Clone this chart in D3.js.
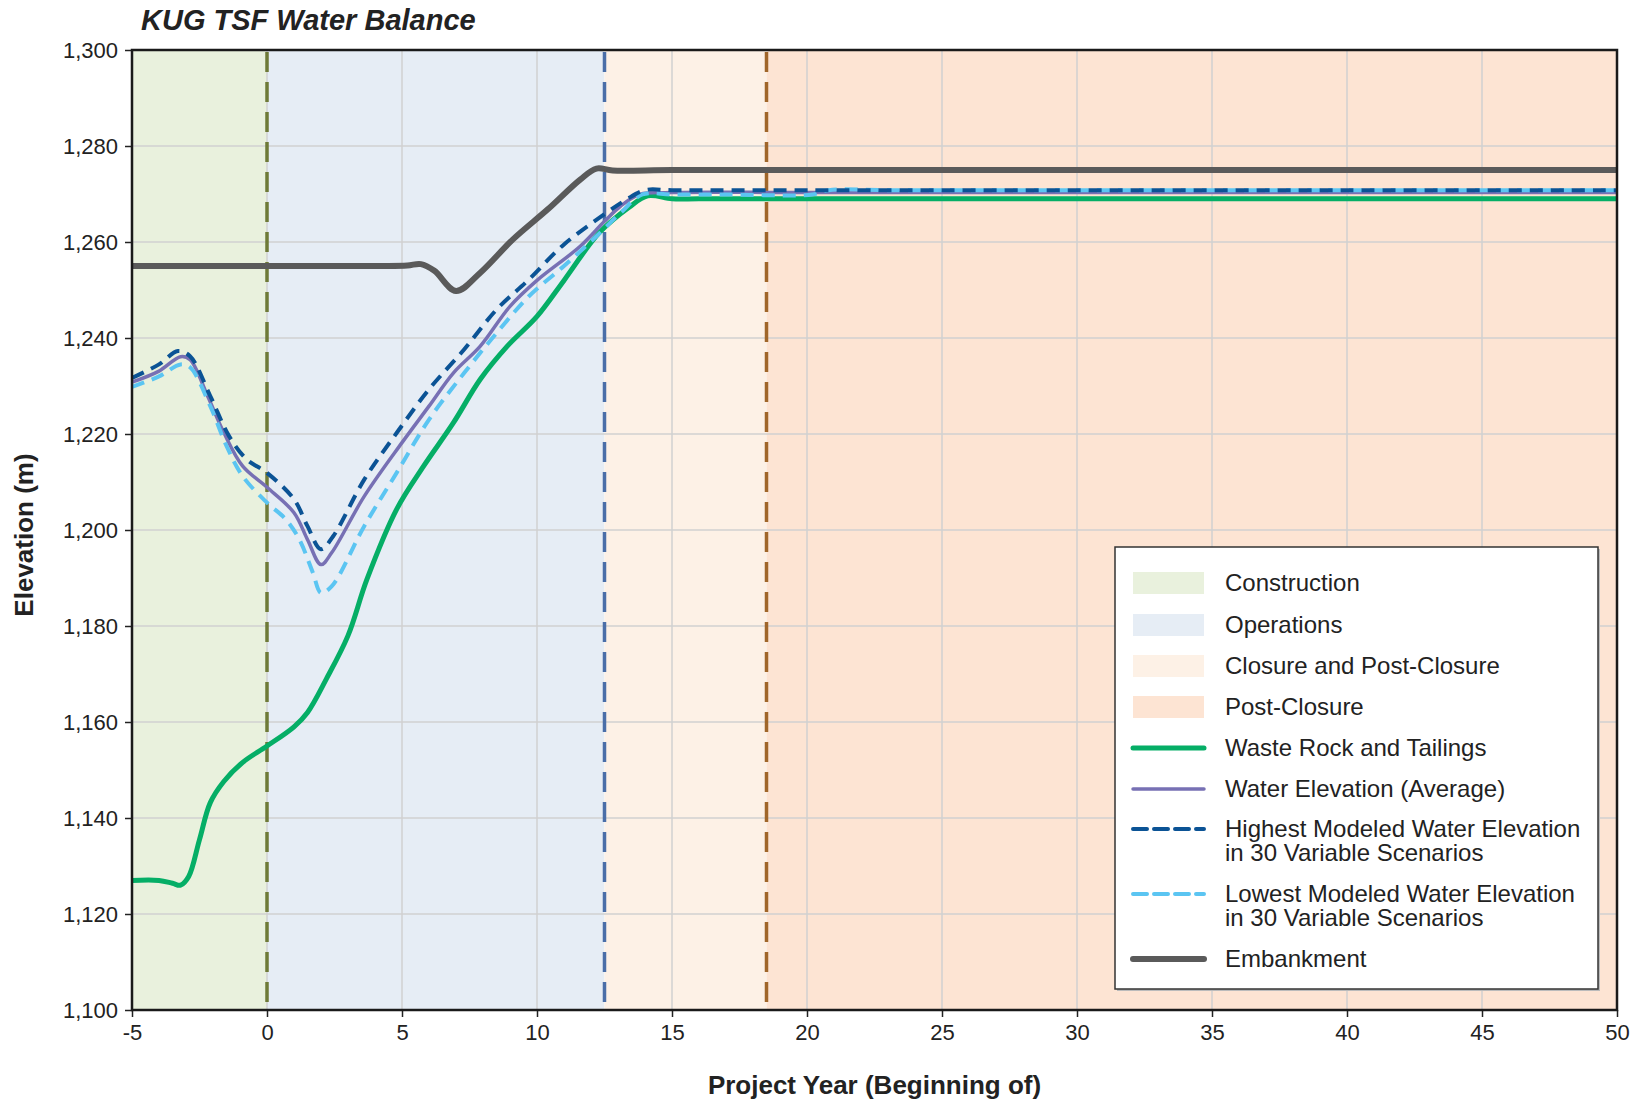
<!DOCTYPE html>
<html>
<head>
<meta charset="utf-8">
<script src="https://cdn.jsdelivr.net/npm/d3@7"></script>
<style>
  body { margin: 0; background: #fff; }
  text { font-family: "Liberation Sans", Arial, sans-serif; fill: #222; }
</style>
</head>
<body>
<svg id="chart" width="1638" height="1104"></svg>
<script>
// phases
var phaseNames = ["Construction", "Operations", "Closure and Post-Closure", "Post-Closure"];
var phaseStart = [-5, 0, 12.5, 18.5];
var phaseEnd = [0, 12.5, 18.5, 50];
var phaseLineYears = [0, 12.5, 18.5];

// Waste Rock and Tailings
var wasteYears  = [-5, -4, -3.5, -3.2, -2.9, -2.5, -2.1, -1.6, -0.9, 0, 1, 1.5, 2.2, 3, 3.7, 4.8, 5.8, 6.9, 7.9, 8.9, 10, 11, 12.3, 13.4, 14.1, 15, 16, 20, 30, 40, 50];
var wasteValues = [1127, 1127, 1126.4, 1126, 1127.8, 1135.5, 1143.2, 1147.6, 1151.6, 1155, 1159, 1162, 1169, 1178, 1189.7, 1204.3, 1213.3, 1222.3, 1231.4, 1238.3, 1244.5, 1252, 1261.9, 1267.2, 1269.6, 1269, 1269, 1269, 1269, 1269, 1269];

// Water Elevation (Average)
var avgYears  = [-5, -4, -3.2, -2.85, -2.2, -1.6, -0.9, 0, 1, 1.5, 2, 2.4, 3.6, 5, 6, 6.9, 7.9, 9, 10, 11.6, 12.5, 13.1, 13.8, 15, 20, 30, 40, 50];
var avgValues = [1230.8, 1233.1, 1236.1, 1235.5, 1227.9, 1220.3, 1213.3, 1208.9, 1203.6, 1198, 1192.8, 1195.3, 1207, 1218.2, 1225.8, 1232.7, 1238.3, 1246.6, 1252, 1259.1, 1264.3, 1267.5, 1269.9, 1270.3, 1270.3, 1270.3, 1270.3, 1270.3];

// Highest modeled water elevation
var highYears  = [-5, -4, -3.3, -2.85, -2.1, -1.4, -0.75, 0, 1, 1.5, 2, 2.45, 3.6, 4.8, 6, 7.3, 8.5, 9.7, 11, 12.5, 13.3, 14, 15, 20, 30, 40, 50];
var highValues = [1231.7, 1234.5, 1237.3, 1236.2, 1227.9, 1219.5, 1214.7, 1211.9, 1206.4, 1200.8, 1196, 1198.7, 1210.5, 1220.2, 1229.3, 1237.6, 1245.9, 1252.2, 1259.5, 1265.8, 1268.8, 1270.8, 1270.8, 1270.8, 1270.8, 1270.8, 1270.8];

// Lowest modeled water elevation
var lowYears  = [-5, -4, -3.2, -2.85, -2.1, -1.5, -0.9, 0, 0.7, 1.2, 1.7, 2, 2.4, 3.6, 4.8, 6, 7.3, 8.5, 9.7, 11, 12.2, 13.1, 13.9, 15, 17, 20.2, 20.8, 23, 30, 40, 50];
var lowValues = [1229.8, 1232, 1234.5, 1233.9, 1225.8, 1217.5, 1211.2, 1205.7, 1202.2, 1198, 1191.1, 1186.9, 1188.3, 1200.8, 1211.9, 1223, 1232.7, 1241, 1248.7, 1255, 1261.2, 1266.1, 1269.9, 1269.9, 1269.9, 1269.9, 1270.8, 1270.8, 1270.8, 1270.8, 1270.8];

// Embankment
var embYears  = [-5, 0, 4.2, 5.2, 5.7, 6.2, 7, 7.9, 9.1, 10.4, 11.6, 12.2, 12.8, 15, 20, 30, 40, 50];
var embValues = [1255, 1255, 1255, 1255.1, 1255.4, 1254, 1249.8, 1253.6, 1260.5, 1266.8, 1273, 1275.3, 1274.9, 1275, 1275, 1275, 1275, 1275];

var xTicks = [-5, 0, 5, 10, 15, 20, 25, 30, 35, 40, 45, 50];
var yTicks = [1100, 1120, 1140, 1160, 1180, 1200, 1220, 1240, 1260, 1280, 1300];

var svg = d3.select("#chart");
var plotLeft = 132, plotTop = 50, plotRight = 1617, plotBottom = 1010;

var x = d3.scaleLinear().domain([-5, 50]).range([plotLeft, plotRight]);
var y = d3.scaleLinear().domain([1100, 1300]).range([plotBottom, plotTop]);

var phaseColors = ["#e9f1dd", "#e6edf5", "#fdf1e6", "#fde4d3"];
var phaseLineColors = ["#6e7a37", "#4a6ea8", "#a0662a"];

//Draw phase bands
svg.append("g")
    .selectAll("rect")
    .data(phaseNames)
    .enter().append("rect")
    .attr("x", function(d, i) { return x(phaseStart[i]); })
    .attr("y", plotTop)
    .attr("width", function(d, i) { return x(phaseEnd[i]) - x(phaseStart[i]); })
    .attr("height", plotBottom - plotTop)
    .style("fill", function(d, i) { return phaseColors[i]; });

//Grid
var grid = svg.append("g").style("stroke", "#d0d0d0").style("stroke-width", "1.5px");
grid.selectAll("line.v")
    .data(xTicks)
    .enter().append("line")
    .attr("x1", function(d) { return x(d); })
    .attr("x2", function(d) { return x(d); })
    .attr("y1", plotTop).attr("y2", plotBottom);
grid.selectAll("line.h")
    .data(yTicks)
    .enter().append("line")
    .attr("x1", plotLeft).attr("x2", plotRight)
    .attr("y1", function(d) { return y(d); })
    .attr("y2", function(d) { return y(d); });

//Phase boundary lines
svg.append("g")
    .selectAll("line")
    .data(phaseLineYears)
    .enter().append("line")
    .attr("x1", function(d) { return x(d); })
    .attr("x2", function(d) { return x(d); })
    .attr("y1", plotTop + 2).attr("y2", plotBottom)
    .style("stroke", function(d, i) { return phaseLineColors[i]; })
    .style("stroke-width", "3.5px")
    .style("stroke-dasharray", "20,10");

//Series lines
svg.append("clipPath").attr("id", "clip")
    .append("rect").attr("x", plotLeft).attr("y", plotTop).attr("width", plotRight - plotLeft).attr("height", plotBottom - plotTop);

var series = [
    { name: "Waste Rock and Tailings", xs: wasteYears, ys: wasteValues, color: "#05ae66", width: 5, dash: null },
    { name: "Embankment", xs: embYears, ys: embValues, color: "#5a5a5a", width: 6, dash: null },
    { name: "Water Elevation (Average)", xs: avgYears, ys: avgValues, color: "#7770b4", width: 3.5, dash: null },
    { name: "Lowest", xs: lowYears, ys: lowValues, color: "#5bc5f2", width: 4, dash: "13,8" },
    { name: "Highest", xs: highYears, ys: highValues, color: "#0b5395", width: 4, dash: "13,8" }
];

var line = d3.line()
    .x(function(d) { return x(d[0]); })
    .y(function(d) { return y(d[1]); })
    .curve(d3.curveCatmullRom.alpha(0.5));

svg.append("g")
    .attr("clip-path", "url(#clip)")
    .selectAll("path")
    .data(series)
    .enter().append("path")
    .attr("d", function(s) { return line(s.xs.map(function(v, i) { return [v, s.ys[i]]; })); })
    .style("fill", "none")
    .style("stroke", function(s) { return s.color; })
    .style("stroke-width", function(s) { return s.width + "px"; })
    .style("stroke-dasharray", function(s) { return s.dash; })
    .style("stroke-linejoin", "round");

//Axes
var xAxis = svg.append("g")
    .attr("transform", "translate(0," + plotBottom + ")")
    .call(d3.axisBottom(x).tickValues(xTicks).tickFormat(function(d) { return String(d); }).tickSize(7).tickPadding(7));
var yAxis = svg.append("g")
    .attr("transform", "translate(" + plotLeft + ",0)")
    .call(d3.axisLeft(y).tickValues(yTicks).tickFormat(d3.format(",")).tickSize(7).tickPadding(7));

[xAxis, yAxis].forEach(function(a) {
    a.select(".domain").remove();
    a.selectAll("line").style("stroke", "#222").style("stroke-width", "1.5px");
    a.selectAll("text").style("font-size", "22px").style("fill", "#222").attr("font-family", null);
});

svg.append("rect")
    .attr("x", plotLeft).attr("y", plotTop)
    .attr("width", plotRight - plotLeft).attr("height", plotBottom - plotTop)
    .style("fill", "none")
    .style("stroke", "#1a1a1a")
    .style("stroke-width", "2.5px");

//Titles
svg.append("text")
    .attr("x", 141).attr("y", 30)
    .style("font-size", "29px").style("font-weight", "bold").style("font-style", "italic")
    .text("KUG TSF Water Balance");

svg.append("text")
    .attr("x", (plotLeft + plotRight) / 2).attr("y", 1094)
    .attr("text-anchor", "middle")
    .style("font-size", "26px").style("font-weight", "bold")
    .text("Project Year (Beginning of)");

svg.append("text")
    .attr("transform", "translate(33," + ((plotTop + plotBottom) / 2 + 5) + ") rotate(-90)")
    .attr("text-anchor", "middle")
    .style("font-size", "26px").style("font-weight", "bold")
    .text("Elevation (m)");

//Legend
var legend = svg.append("g");
legend.append("rect")
    .attr("x", 1117).attr("y", 549).attr("width", 483).attr("height", 442)
    .style("fill", "#bbb");
legend.append("rect")
    .attr("x", 1115).attr("y", 547).attr("width", 483).attr("height", 442)
    .style("fill", "#fff").style("stroke", "#333").style("stroke-width", "1.5px");

var swX = 1133, swW = 71, txX = 1225;
var phaseRowY = [583, 625, 666, 707];
legend.selectAll("rect.sw")
    .data(phaseNames)
    .enter().append("rect")
    .attr("x", swX).attr("y", function(d, i) { return phaseRowY[i] - 11; })
    .attr("width", swW).attr("height", 22)
    .style("fill", function(d, i) { return phaseColors[i]; });
legend.selectAll("text.ph")
    .data(phaseNames)
    .enter().append("text")
    .attr("x", txX).attr("y", function(d, i) { return phaseRowY[i] + 8; })
    .style("font-size", "24px")
    .text(function(d) { return d; });

var lineLabels = [
    ["Waste Rock and Tailings"],
    ["Water Elevation (Average)"],
    ["Highest Modeled Water Elevation", "in 30 Variable Scenarios"],
    ["Lowest Modeled Water Elevation", "in 30 Variable Scenarios"],
    ["Embankment"]
];
var lineRowY = [748, 789, 829, 894, 959];
var legendSeries = [series[0], series[2], series[4], series[3], series[1]];

legend.selectAll("line.ls")
    .data(legendSeries)
    .enter().append("line")
    .attr("x1", swX).attr("x2", swX + swW)
    .attr("y1", function(d, i) { return lineRowY[i]; })
    .attr("y2", function(d, i) { return lineRowY[i]; })
    .style("stroke", function(s) { return s.color; })
    .style("stroke-width", function(s) { return s.width + "px"; })
    .style("stroke-dasharray", function(s) { return s.dash ? "14,7" : null; })
    .style("stroke-linecap", "round");

lineLabels.forEach(function(lbl, i) {
    var t = legend.append("text")
        .attr("x", txX).attr("y", lineRowY[i] + 8)
        .style("font-size", "24px");
    lbl.forEach(function(s, j) {
        t.append("tspan").attr("x", txX).attr("dy", j === 0 ? 0 : 24).text(s);
    });
});
</script>
</body>
</html>
